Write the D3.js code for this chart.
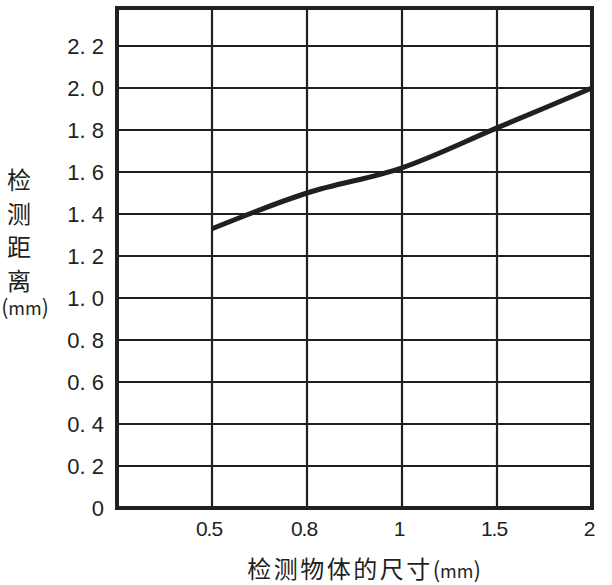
<!DOCTYPE html>
<html>
<head>
<meta charset="utf-8">
<script src="https://cdn.jsdelivr.net/npm/d3@7"></script>
<style>
  body { margin: 0; background: #fff; }
  svg text { fill: #231f20; }
</style>
</head>
<body>
<svg id="chart" width="612" height="585"></svg>
<script>
// data
const sizes = ['0.5', '0.8', '1', '1.5', '2'];
const distances = [1.33, 1.50, 1.62, 1.81, 2.0];
const yTicks = [0, 0.2, 0.4, 0.6, 0.8, 1.0, 1.2, 1.4, 1.6, 1.8, 2.0, 2.2];
const yTitle = ['检', '测', '距', '离'];
const xTitle = '检测物体的尺寸';

const ink = '#231f20';
const frame = { left: 117, right: 592, top: 8, bottom: 508 };

const svg = d3.select('#chart');

// x: categories sit on gridlines, with one empty column at the left
const x = d3.scaleLinear()
  .domain([-1, sizes.length - 1])
  .range([frame.left, frame.right]);
const y = d3.scaleLinear()
  .domain([0, 2.0])
  .range([frame.bottom, 88]);

// grid
const grid = svg.append('g').attr('stroke', ink).attr('stroke-width', 2.2);
grid.selectAll('line.h')
  .data(yTicks.filter(d => d > 0))
  .enter().append('line')
    .attr('x1', frame.left).attr('x2', frame.right)
    .attr('y1', d => y(d)).attr('y2', d => y(d));
grid.selectAll('line.v')
  .data(sizes.slice(0, -1))
  .enter().append('line')
    .attr('x1', (d, i) => x(i)).attr('x2', (d, i) => x(i))
    .attr('y1', frame.top).attr('y2', frame.bottom);

// frame
svg.append('rect')
  .attr('x', frame.left).attr('y', frame.top)
  .attr('width', frame.right - frame.left)
  .attr('height', frame.bottom - frame.top)
  .attr('fill', 'none')
  .attr('stroke', ink)
  .attr('stroke-width', 4);

// curve
const line = d3.line()
  .x((d, i) => x(i))
  .y(d => y(d))
  .curve(d3.curveMonotoneX);
svg.append('path')
  .datum(distances)
  .attr('d', line)
  .attr('fill', 'none')
  .attr('stroke', ink)
  .attr('stroke-width', 5)
  .attr('stroke-linecap', 'butt');

// y tick labels
svg.append('g')
  .selectAll('text')
  .data(yTicks)
  .enter().append('text')
    .attr('x', 104)
    .attr('y', d => y(d) + 8)
    .attr('text-anchor', 'end')
    .style('font', '22px "Liberation Sans", Arial, sans-serif')
    .style('white-space', 'pre')
    .text(d => d === 0 ? '0' : d.toFixed(1).replace('.', '. '));

// x tick labels
svg.append('g')
  .selectAll('text')
  .data(sizes)
  .enter().append('text')
    .attr('x', (d, i) => x(i) - 3)
    .attr('y', 536)
    .attr('text-anchor', 'middle')
    .style('font', '21px "Liberation Sans", Arial, sans-serif')
    .style('letter-spacing', '-1px')
    .text(d => d);

// x title
const xt = svg.append('text')
  .attr('x', 364)
  .attr('y', 578)
  .attr('text-anchor', 'middle')
  .style('font', '24px "Noto Sans CJK SC", sans-serif');
xt.append('tspan').style('letter-spacing', '2.5px').text(xTitle);
xt.append('tspan').style('font-size', '22px').text('(');
xt.append('tspan').style('font-size', '18px').text('mm');
xt.append('tspan').style('font-size', '22px').text(')');

// y title, stacked vertically
svg.append('g')
  .selectAll('text')
  .data(yTitle)
  .enter().append('text')
    .attr('x', 19)
    .attr('y', (d, i) => 189 + i * 33.5)
    .attr('text-anchor', 'middle')
    .style('font', '24px "Noto Sans CJK SC", sans-serif')
    .text(d => d);
const ymm = svg.append('text')
  .attr('x', 25)
  .attr('y', 315)
  .attr('text-anchor', 'middle')
  .style('font', '18px "Noto Sans CJK SC", sans-serif');
ymm.append('tspan').style('font-size', '21px').text('(');
ymm.append('tspan').text('mm');
ymm.append('tspan').style('font-size', '21px').text(')');
</script>
</body>
</html>
